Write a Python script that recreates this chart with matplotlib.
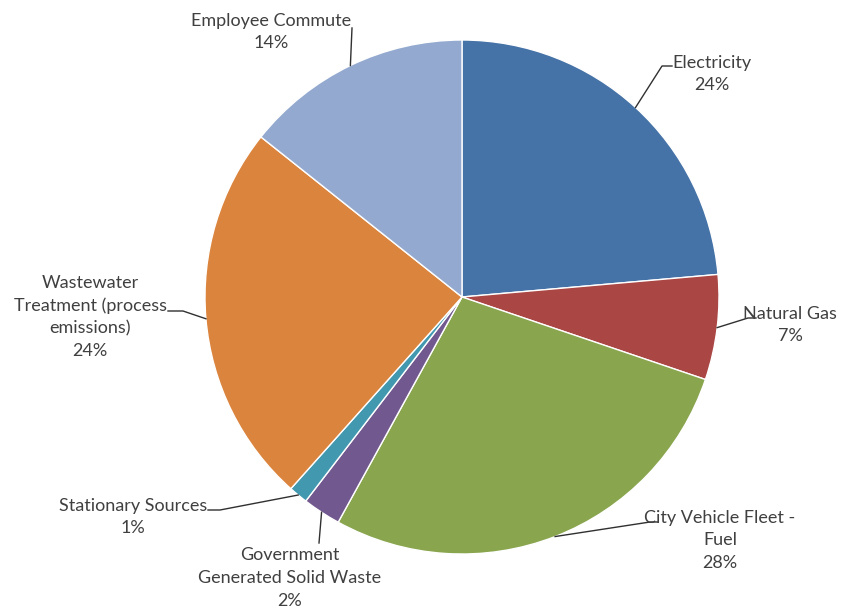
import numpy as np
import matplotlib.pyplot as plt

labels = ['Electricity', 'Natural Gas', 'City Vehicle Fleet -\nFuel',
          'Government\nGenerated Solid Waste', 'Stationary Sources',
          'Wastewater\nTreatment (process\nemissions)', 'Employee Commute']
values = [23.6, 6.6, 27.8, 2.4, 1.2, 24.1, 14.3]
colors = ['#4572A7', '#AA4643', '#89A54E', '#71588F', '#4198AF', '#DB843D', '#93A9CF']

# label layout in image pixels (y down): text centre, then leader line points
text_pos = [(712, 74), (790, 325), (720, 540), (290, 578), (133, 517), (90, 317), (271, 32)]
leader = [[(662, 66), (672, 66)],
          [(748, 318), (756, 318)],
          [(650, 522), (658, 522)],
          [(319, 543)],
          [(220, 510), (208, 510)],
          [(183, 311), (168, 311)],
          [(352, 28)]]

W, H = 852, 610
cx, cy, R = 462, H - 297, 257

plt.rcParams['font.family'] = ['Lato', 'DejaVu Sans']
fig = plt.figure(figsize=(W / 100, H / 100), dpi=100)
ax = fig.add_axes([0, 0, 1, 1])

wedges, _ = ax.pie(values, colors=colors, startangle=90, counterclock=False,
                   center=(cx, cy), radius=R, frame=True,
                   wedgeprops=dict(edgecolor='white', linewidth=1))
ax.set_xlim(0, W)
ax.set_ylim(0, H)
ax.set_aspect('equal')
ax.axis('off')

total = sum(values)
for w, lab, v, tp, pts in zip(wedges, labels, values, text_pos, leader):
    mid = np.deg2rad((w.theta1 + w.theta2) / 2)
    ax_pt = (cx + R * np.cos(mid), cy + R * np.sin(mid))
    xs = [ax_pt[0]] + [p[0] for p in pts]
    ys = [ax_pt[1]] + [H - p[1] for p in pts]
    ax.plot(xs, ys, color='#303030', lw=1)
    pct = '%d%%' % round(v / total * 100)
    ax.text(tp[0], H - tp[1], lab + '\n' + pct, ha='center', va='center',
            multialignment='center', fontsize=13, color='#404040', linespacing=1.5)

fig.savefig('out.png', dpi=100)
